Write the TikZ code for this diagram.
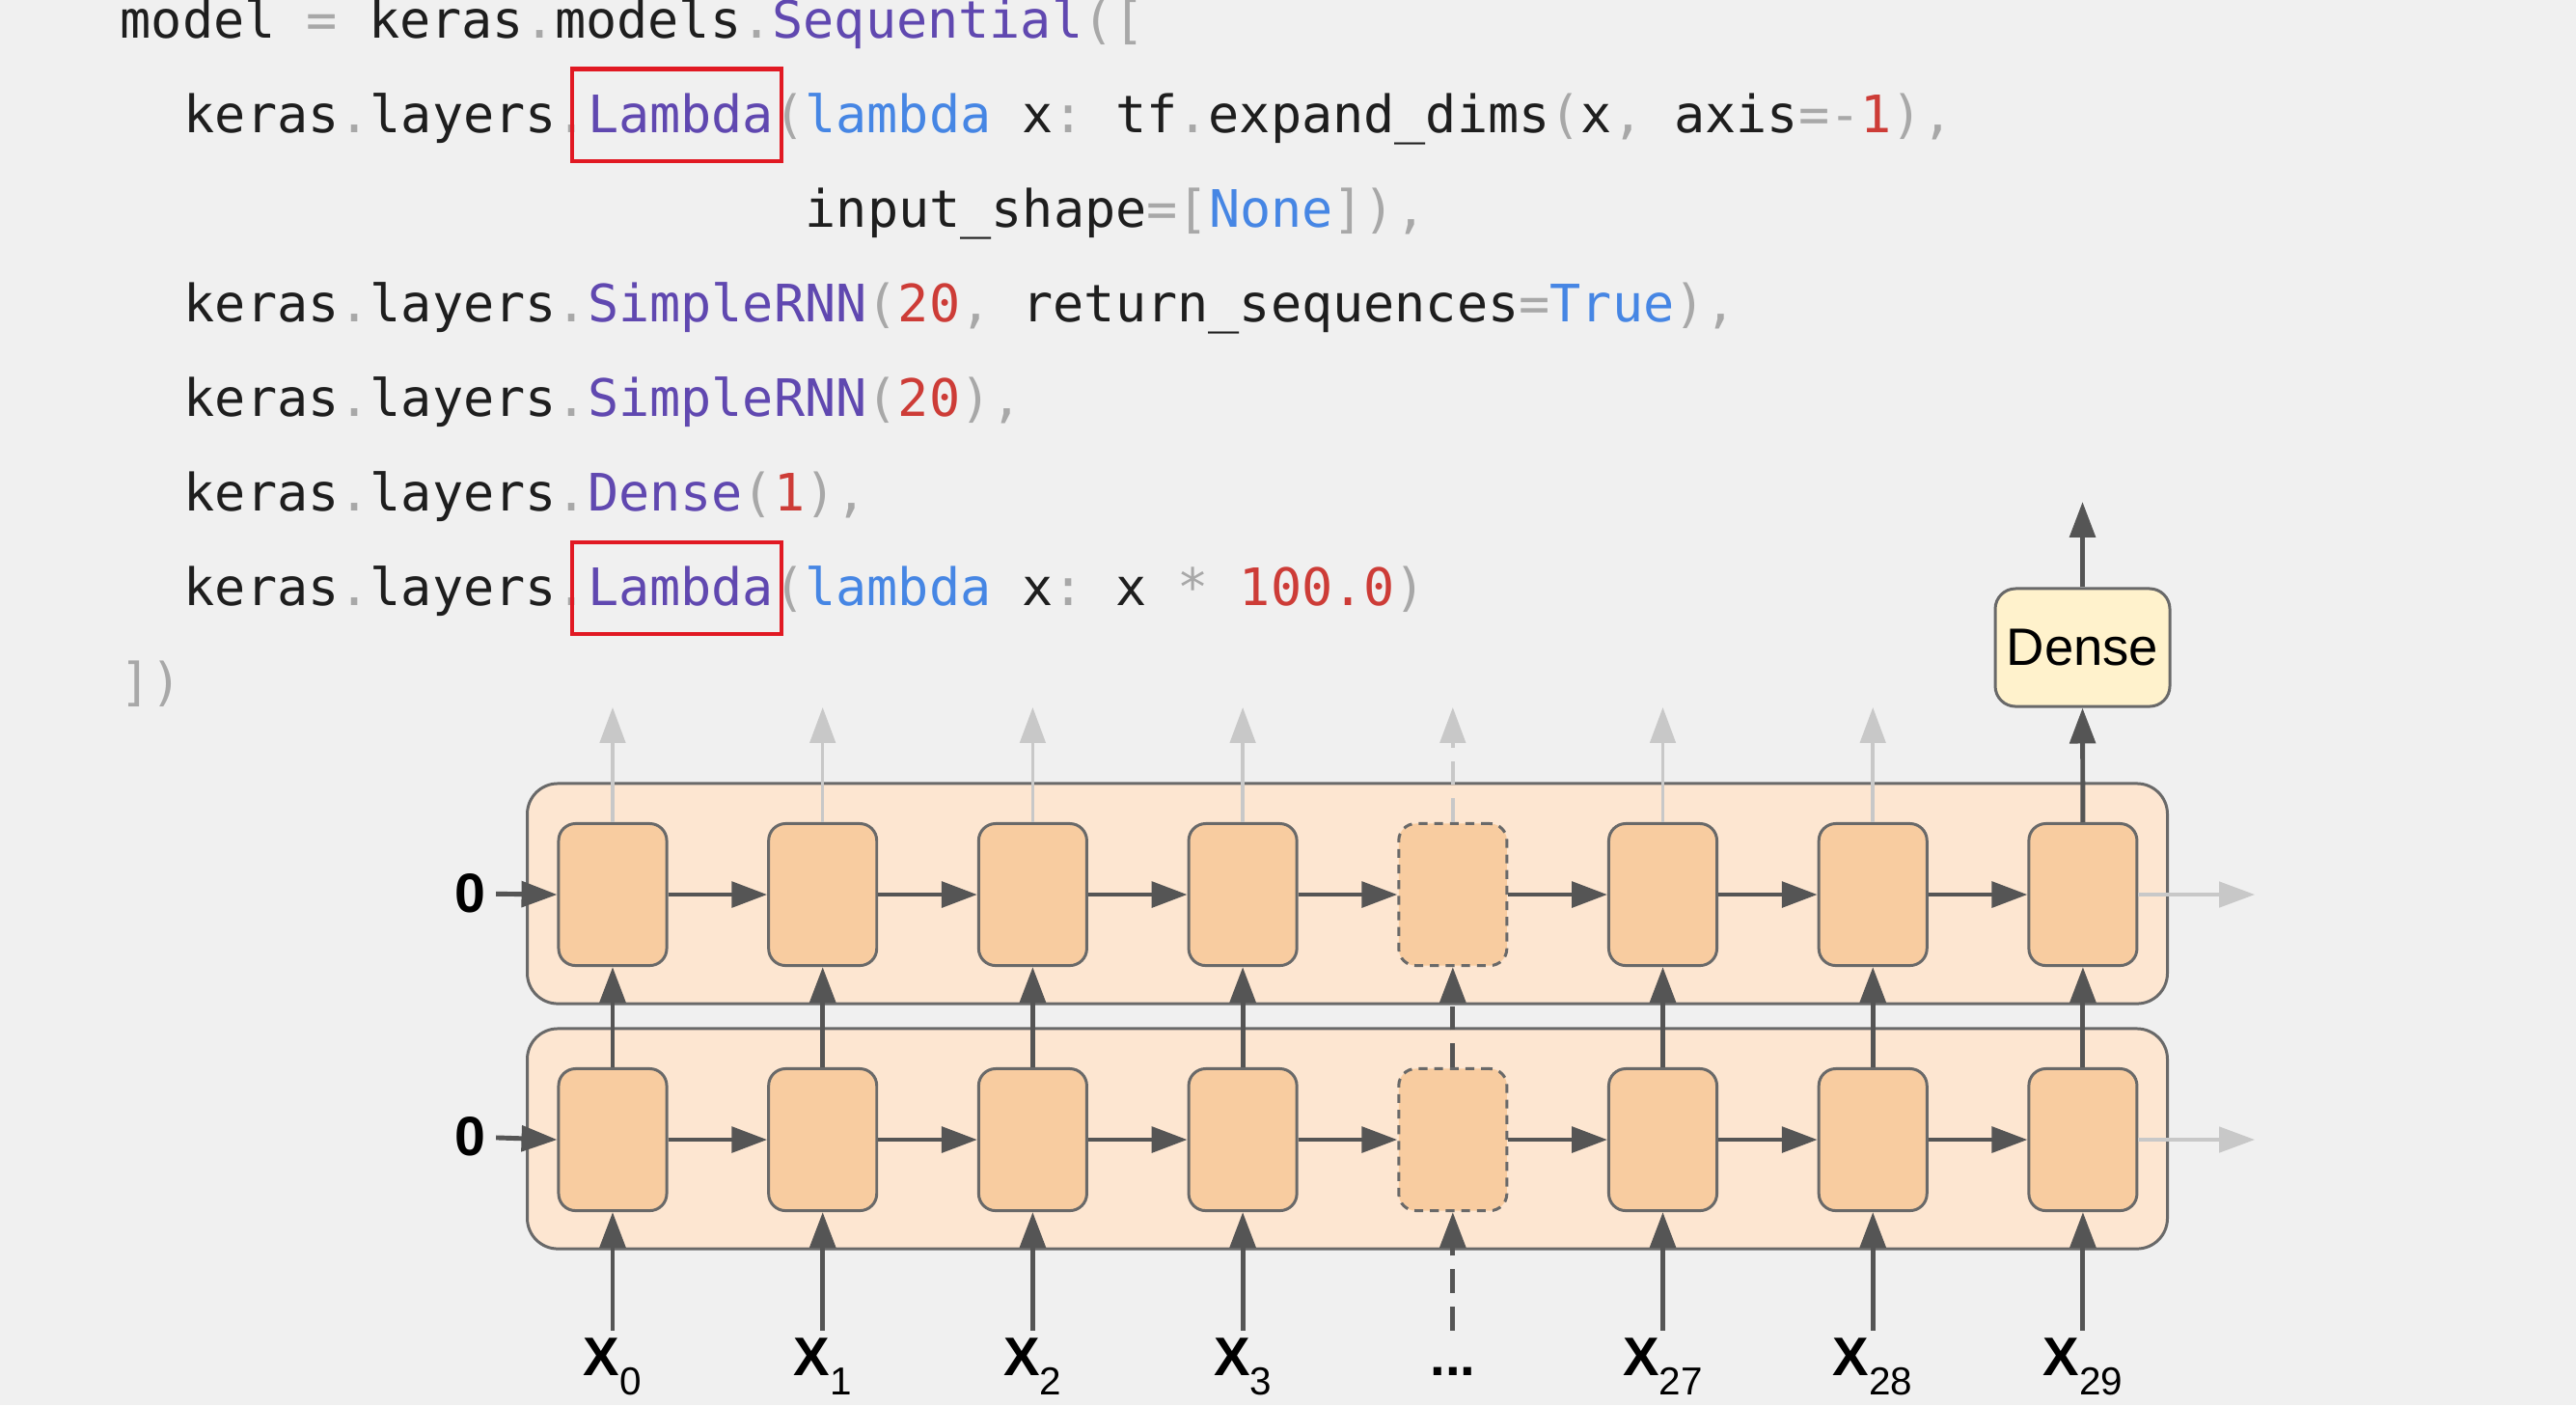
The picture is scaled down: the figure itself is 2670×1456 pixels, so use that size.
\documentclass[tikz,border=0pt]{standalone}
\usepackage{fontspec}
\setmainfont{Liberation Sans}
\setmonofont{DejaVu Sans Mono}
\usepackage{tikz}
\usetikzlibrary{arrows.meta}
\definecolor{slide}{RGB}{240,240,240}
\definecolor{codeblack}{RGB}{30,30,30}
\definecolor{codepurple}{RGB}{96,72,176}
\definecolor{codeblue}{RGB}{70,134,228}
\definecolor{codered}{RGB}{205,60,55}
\definecolor{codegray}{RGB}{168,168,168}
\definecolor{markred}{RGB}{225,25,35}
\definecolor{layerfill}{RGB}{253,230,209}
\definecolor{cellfill}{RGB}{248,204,160}
\definecolor{densefill}{RGB}{255,242,204}
\definecolor{edgegray}{RGB}{105,105,105}
\definecolor{arrowgray}{RGB}{85,85,85}
\definecolor{ghost}{RGB}{200,200,200}
\newcommand{\cpun}[1]{\textcolor{codegray}{#1}}
\newcommand{\cpur}[1]{\textcolor{codepurple}{#1}}
\newcommand{\cblu}[1]{\textcolor{codeblue}{#1}}
\newcommand{\cnum}[1]{\textcolor{codered}{#1}}
\newcommand{\xsub}[1]{\raisebox{-5.7pt}{\fontsize{11.5}{13}\selectfont\mdseries #1}}
\frenchspacing

\begin{document}
\begin{tikzpicture}[
  x=0.01cm, y=-0.01cm,
  code/.style={anchor=base west, inner sep=0pt, text=codeblack, font=\ttfamily\fontsize{15.2}{18}\selectfont},
  hlbox/.style={draw=markred, line width=1.15pt, minimum width=2.17cm, minimum height=0.95cm},
  layerbox/.style={draw=edgegray, line width=0.85pt, fill=layerfill, rounded corners=9pt, minimum width=16.99cm, minimum height=2.28cm},
  cell/.style={draw=edgegray, line width=0.85pt, fill=cellfill, rounded corners=5pt, minimum width=1.12cm, minimum height=1.47cm},
  ghostcell/.style={cell, dash pattern=on 2.6pt off 2pt},
  densebox/.style={draw=edgegray, line width=0.85pt, fill=densefill, rounded corners=6pt, minimum width=1.75cm, minimum height=1.22cm, font=\fontsize{15.5}{17}\selectfont},
  zero/.style={inner sep=3pt, font=\bfseries\fontsize{16.3}{18}\selectfont},
  xlab/.style={anchor=base, inner sep=0pt, text height=13pt, font=\bfseries\fontsize{16}{18}\selectfont},
  link/.style={draw=arrowgray, line width=1.4pt, -{Triangle[length=10.5pt,width=7.5pt]}},
  faint/.style={draw=ghost, line width=1pt, -{Triangle[length=10.5pt,width=7.5pt]}},
  gap/.style={dash pattern=on 7pt off 4pt}
]
\useasboundingbox (0,0) rectangle (2670,1456);
\fill[slide] (0,0) rectangle (2670,1456);

\node[code] (ln1) at (124,39) {model \cpun{=} keras\cpun{.}models\cpun{.}\cpur{Sequential}\cpun{([}};
\node[code] (ln2) at (190,137) {keras\cpun{.}layers\cpun{.}\cpur{Lambda}\cpun{(}\cblu{lambda} x\cpun{:} tf\cpun{.}expand\_dims\cpun{(}x\cpun{,} axis\cpun{=-}\cnum{1}\cpun{),}};
\node[code] (ln3) at (834,235) {input\_shape\cpun{=[}\cblu{None}\cpun{]),}};
\node[code] (ln4) at (190,333) {keras\cpun{.}layers\cpun{.}\cpur{SimpleRNN}\cpun{(}\cnum{20}\cpun{,} return\_sequences\cpun{=}\cblu{True}\cpun{),}};
\node[code] (ln5) at (190,431) {keras\cpun{.}layers\cpun{.}\cpur{SimpleRNN}\cpun{(}\cnum{20}\cpun{),}};
\node[code] (ln6) at (190,529) {keras\cpun{.}layers\cpun{.}\cpur{Dense}\cpun{(}\cnum{1}\cpun{),}};
\node[code] (ln7) at (190,627) {keras\cpun{.}layers\cpun{.}\cpur{Lambda}\cpun{(}\cblu{lambda} x\cpun{:} x \cpun{*} \cnum{100.0}\cpun{)}};
\node[code] (ln8) at (124,725) {\cpun{])}};
\node[hlbox] (hl1) at (701.5,119) {};
\node[hlbox] (hl2) at (701.5,609.5) {};

\node[layerbox] (toplayer) at (1396.5,926) {};
\node[layerbox] (botlayer) at (1396.5,1180) {};
\foreach \i/\s in {0/cell,1/cell,2/cell,3/cell,4/ghostcell,5/cell,6/cell,7/cell} {
  \node[\s] (t\i) at (635+217.7*\i,927) {};
  \node[\s] (b\i) at (635+217.7*\i,1181) {};
}
\foreach \i/\sub in {0/0,1/1,2/2,3/3,5/27,6/28,7/29} {
  \node[xlab] (x\i) at (635+217.7*\i,1425) {X\xsub{\sub}};
}
\node[xlab] (x4) at (1505.8,1425) {...};
\node[zero] (zt) at (487,926) {0};
\node[zero] (zb) at (487,1178) {0};
\node[densebox] (dense) at (2158.5,671) {Dense};

\draw[link] (zt) -- (t0.west);
\draw[link] (zb) -- (b0.west);
\foreach \i/\j in {0/1,1/2,2/3,3/4,4/5,5/6,6/7} {
  \draw[link] (t\i.east) -- (t\j.west);
  \draw[link] (b\i.east) -- (b\j.west);
}
\foreach \i in {0,1,2,3,5,6,7} {
  \draw[link] (x\i.north) -- (b\i.south);
  \draw[link] (b\i.north) -- (t\i.south);
}
\draw[link, gap] (x4.north) -- (b4.south);
\draw[link, gap] (b4.north) -- (t4.south);
\foreach \i in {0,1,2,3,5,6} {
  \coordinate (o\i) at (635+217.7*\i,733);
  \draw[faint] (t\i.north) -- (o\i);
}
\coordinate (o4) at (1505.8,733);
\draw[faint, gap] (t4.north) -- (o4);
\draw[link] (t7.north) -- (dense.south);
\coordinate (out) at (2158.5,520);
\draw[link] (dense.north) -- (out);
\coordinate (rt) at (2337,927);
\coordinate (rb) at (2337,1181);
\draw[faint] (t7.east) -- (rt);
\draw[faint] (b7.east) -- (rb);
\end{tikzpicture}
\end{document}
